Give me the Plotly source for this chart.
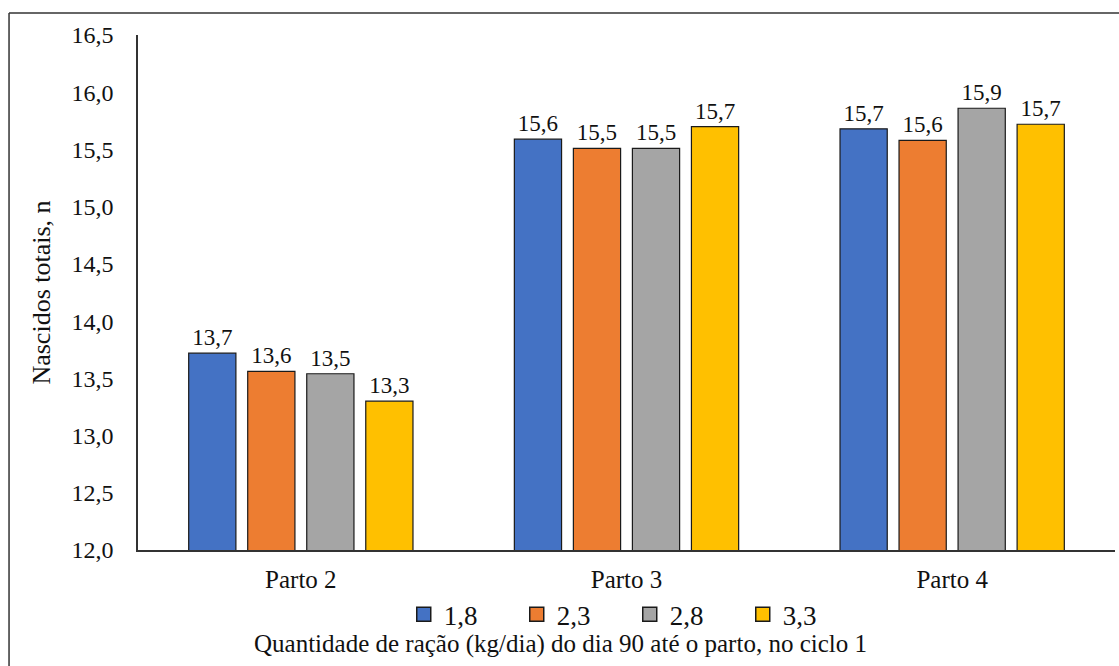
import plotly.graph_objects as go

# Categories (birth order) and feed-level series
partos = ["Parto 2", "Parto 3", "Parto 4"]
niveis = ["1,8", "2,3", "2,8", "3,3"]

# Total piglets born per feed level (kg/day)
valores_18 = [13.72, 15.59, 15.68]
valores_23 = [13.56, 15.51, 15.58]
valores_28 = [13.54, 15.51, 15.86]
valores_33 = [13.30, 15.70, 15.72]

cores = ["#4472C4", "#ED7D31", "#A5A5A5", "#FFC000"]
series = [valores_18, valores_23, valores_28, valores_33]

FONT = "Liberation Serif"
TXT = "#111"
EDGE = "#1a1a1a"

fig = go.Figure()
for nome, vals, cor in zip(niveis, series, cores):
    fig.add_trace(go.Bar(
        x=partos,
        y=vals,
        name=nome,
        legendgroup=nome,
        showlegend=False,
        marker=dict(color=cor, line=dict(color=EDGE, width=1.2)),
        texttemplate="%{y:.1f}",
        textposition="outside",
        textfont=dict(family=FONT, size=23, color=TXT),
        cliponaxis=False,
    ))

# legend keys: larger square swatches
for nome, cor in zip(niveis, cores):
    fig.add_trace(go.Scatter(
        x=[None], y=[None],
        mode="markers",
        name=nome,
        legendgroup=nome,
        marker=dict(symbol="square", size=14, color=cor,
                    line=dict(color=EDGE, width=1.5)),
    ))

fig.update_layout(
    width=1119,
    height=666,
    paper_bgcolor="white",
    plot_bgcolor="white",
    separators=",.",
    barmode="group",
    bargap=0.275,
    bargroupgap=0.2,
    margin=dict(l=138, r=4, t=35, b=116),
    font=dict(family=FONT, size=24, color=TXT),
    showlegend=True,
    legend=dict(
        orientation="h",
        x=0.272,
        xanchor="left",
        y=-0.078,
        yanchor="top",
        font=dict(family=FONT, size=27, color=TXT),
        entrywidth=68,
        entrywidthmode="pixels",
        itemsizing="trace",
        tracegroupgap=0,
        bgcolor="rgba(0,0,0,0)",
    ),
    xaxis=dict(
        showline=True,
        linecolor="#333",
        linewidth=1.5,
        ticks="",
        tickfont=dict(family=FONT, size=25, color=TXT),
        ticklabelstandoff=6,
        showgrid=False,
    ),
    yaxis=dict(
        range=[12, 16.5],
        dtick=0.5,
        tickformat=".1f",
        showline=True,
        linecolor="#333",
        linewidth=1.5,
        ticks="",
        showgrid=False,
        zeroline=False,
        tickfont=dict(family=FONT, size=24, color=TXT),
        ticklabelstandoff=18,
        title=dict(
            text="Nascidos totais, n",
            font=dict(family=FONT, size=26, color=TXT),
            standoff=13,
        ),
    ),
    annotations=[
        dict(
            text="Quantidade de ração (kg/dia) do dia 90 até o parto, no ciclo 1",
            xref="paper", yref="paper",
            x=0.432, y=-0.151,
            xanchor="center", yanchor="top",
            showarrow=False,
            font=dict(family=FONT, size=25, color=TXT),
        )
    ],
    shapes=[
        # outer frame (top and left edges visible)
        dict(type="line", xref="paper", yref="paper",
             x0=-0.132, x1=1.1, y0=1.0427, y1=1.0427,
             line=dict(color="#333", width=1.5)),
        dict(type="line", xref="paper", yref="paper",
             x0=-0.132, x1=-0.132, y0=1.0427, y1=-0.3,
             line=dict(color="#333", width=1.5)),
    ],
)

fig.write_html("out.html")
